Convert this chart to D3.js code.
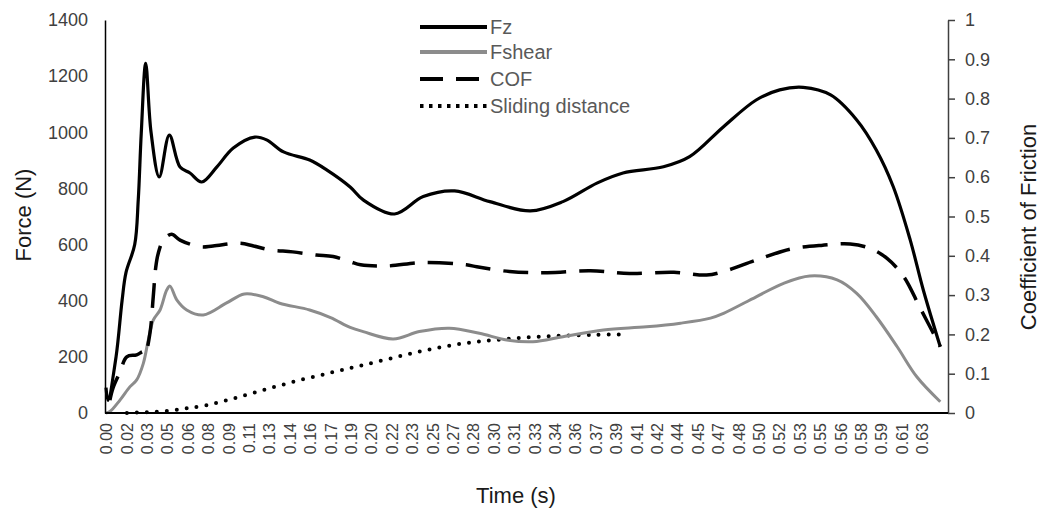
<!DOCTYPE html>
<html>
<head>
<meta charset="utf-8">
<script src="https://cdn.jsdelivr.net/npm/d3@7"></script>
<style>
  body { margin: 0; background: #fff; }
  svg { font-family: "Liberation Sans", Arial, sans-serif; }
</style>
</head>
<body>
<div id="chart"></div>
<script>
// x-axis category labels (every 1/64 s)
const tickLabels = ["0.00","0.02","0.03","0.05","0.06","0.08","0.09","0.11","0.13","0.14",
  "0.16","0.17","0.19","0.20","0.22","0.23","0.25","0.27","0.28","0.30","0.31","0.33",
  "0.34","0.36","0.37","0.39","0.41","0.42","0.44","0.45","0.47","0.48","0.50","0.52",
  "0.53","0.55","0.56","0.58","0.59","0.61","0.63"];
const forceTicks = [0, 200, 400, 600, 800, 1000, 1200, 1400];
const cofTicks = [0, 0.1, 0.2, 0.3, 0.4, 0.5, 0.6, 0.7, 0.8, 0.9, 1];

// Fz (N)
const fzTime = [0, 0.0015, 0.0077, 0.0123, 0.0153, 0.022, 0.0247, 0.027, 0.0304, 0.0345,
  0.0408, 0.0485, 0.0567, 0.0643, 0.0733, 0.0848, 0.0975, 0.114, 0.123, 0.136,
  0.156, 0.169, 0.187, 0.197, 0.221, 0.243, 0.267, 0.294, 0.325, 0.350,
  0.376, 0.396, 0.427, 0.447, 0.473, 0.498, 0.516, 0.534, 0.555, 0.575,
  0.590, 0.603, 0.616, 0.626, 0.639];
const fzValues = [90, 45, 200, 400, 500, 600, 759, 996, 1246, 1000,
  841, 990, 876, 855, 823, 876, 944, 983, 973, 930,
  901, 866, 805, 759, 709, 771, 791, 753, 720, 753,
  819, 855, 877, 913, 1020, 1115, 1151, 1160, 1133, 1044,
  937, 806, 616, 438, 236];

// Fshear (N)
const shearTime = [0, 0.003, 0.0107, 0.0184, 0.0235, 0.0286, 0.0324, 0.0362, 0.0414, 0.0465,
  0.049, 0.0542, 0.0618, 0.0745, 0.0924, 0.106, 0.1205, 0.133, 0.156, 0.172,
  0.187, 0.197, 0.220, 0.240, 0.263, 0.286, 0.307, 0.327, 0.350, 0.381,
  0.414, 0.440, 0.463, 0.473, 0.498, 0.519, 0.539, 0.560, 0.575, 0.590,
  0.606, 0.621, 0.639];
const shearValues = [0, 5, 46, 94, 118, 177, 260, 331, 367, 438,
  452, 403, 367, 349, 392, 424, 414, 391, 367, 340,
  305, 290, 264, 290, 302, 284, 260, 254, 272, 296,
  307, 320, 338, 355, 414, 462, 488, 474, 426, 343,
  236, 129, 40];

// COF (right axis)
const cofTime = [0.003, 0.0054, 0.0107, 0.0159, 0.0235, 0.0286, 0.030, 0.0337, 0.0362, 0.0381,
  0.040, 0.0439, 0.0502, 0.0567, 0.072, 0.082, 0.1026, 0.113, 0.1255, 0.143,
  0.161, 0.174, 0.187, 0.195, 0.215, 0.243, 0.276, 0.284, 0.309, 0.338,
  0.371, 0.401, 0.435, 0.460, 0.473, 0.498, 0.524, 0.549, 0.570, 0.585,
  0.598, 0.611, 0.623, 0.631, 0.639];
const cofValues = [0.033, 0.064, 0.104, 0.143, 0.148, 0.156, 0.15, 0.204, 0.296, 0.371,
  0.406, 0.440, 0.455, 0.440, 0.423, 0.425, 0.432, 0.425, 0.415, 0.410,
  0.402, 0.398, 0.385, 0.377, 0.374, 0.383, 0.377, 0.372, 0.360, 0.357,
  0.362, 0.355, 0.358, 0.351, 0.360, 0.389, 0.417, 0.427, 0.430, 0.419,
  0.394, 0.347, 0.271, 0.220, 0.169];

// Sliding distance (right axis)
const slideTime = [0.016, 0.03, 0.046, 0.062, 0.077, 0.0975, 0.123, 0.149, 0.174,
  0.197, 0.223, 0.248, 0.274, 0.299, 0.325, 0.350, 0.376, 0.396];
const slideValues = [0, 0.002, 0.005, 0.012, 0.02, 0.037, 0.061, 0.084, 0.104,
  0.122, 0.143, 0.162, 0.177, 0.186, 0.193, 0.197, 0.199, 0.2];

const W = 1040, H = 516;
const margin = { top: 20, right: 92, bottom: 103, left: 105 };
const width = W - margin.left - margin.right;
const height = H - margin.top - margin.bottom;

const svg = d3.select("#chart").append("svg")
  .attr("width", W).attr("height", H);
const g = svg.append("g")
  .attr("transform", "translate(" + margin.left + "," + margin.top + ")");

const step = 1 / 64;
const x = d3.scaleLinear().domain([0, 40 * step]).range([1, 817]);
const yLeft = d3.scaleLinear().domain([0, 1400]).range([height, 0]);
const yRight = d3.scaleLinear().domain([0, 1]).range([height, 0]);

function zip(ts, vs) { return ts.map((t, i) => ({ t: t, v: vs[i] })); }

const lineL = d3.line().x(d => x(d.t)).y(d => yLeft(d.v)).curve(d3.curveCatmullRom.alpha(0.5));
const lineR = d3.line().x(d => x(d.t)).y(d => yRight(d.v)).curve(d3.curveCatmullRom.alpha(0.5));

// series
g.append("path").datum(zip(slideTime, slideValues))
  .attr("d", lineR).attr("fill", "none").attr("stroke", "#000")
  .attr("stroke-width", 4).attr("stroke-linecap", "round").attr("stroke-dasharray", "0,10");
g.append("path").datum(zip(shearTime, shearValues))
  .attr("d", lineL).attr("fill", "none").attr("stroke", "#8c8c8c").attr("stroke-width", 3);
g.append("path").datum(zip(cofTime, cofValues))
  .attr("d", lineR).attr("fill", "none").attr("stroke", "#000")
  .attr("stroke-width", 3.5).attr("stroke-dasharray", "25,13");
g.append("path").datum(zip(fzTime, fzValues))
  .attr("d", lineL).attr("fill", "none").attr("stroke", "#000").attr("stroke-width", 3.2);

// left axis
const axL = g.append("g").call(d3.axisLeft(yLeft).tickValues(forceTicks)
  .tickFormat(d3.format("d")).tickSize(0).tickPadding(17));
axL.select(".domain").attr("stroke", "#000").attr("stroke-width", 1.5);
axL.selectAll("text").attr("font-size", 18).attr("fill", "#404040").attr("font-family", null);

// right axis
const axR = g.append("g").attr("transform", "translate(" + width + ",0)")
  .call(d3.axisRight(yRight).tickValues(cofTicks).tickFormat(d => String(d)).tickSize(7).tickPadding(10).tickSizeOuter(0));
axR.selectAll("path, line").attr("stroke", "#404040").attr("stroke-width", 1.5);
axR.selectAll("text").attr("font-size", 18).attr("fill", "#404040").attr("font-family", null);

// bottom axis
const axB = g.append("g").attr("transform", "translate(0," + height + ")")
  .call(d3.axisBottom(x).tickValues(tickLabels.map((d, i) => i * step))
    .tickFormat((d, i) => tickLabels[i]).tickSize(0));
axB.select(".domain").remove();
axB.selectAll("text")
  .attr("transform", "rotate(-90)")
  .attr("x", -10).attr("y", 0).attr("dy", "0.35em")
  .style("text-anchor", "end")
  .attr("font-size", 16).attr("fill", "#404040").attr("font-family", null);
g.append("line").attr("x1", 0).attr("x2", width).attr("y1", height).attr("y2", height)
  .attr("stroke", "#000").attr("stroke-width", 2);

// axis titles
svg.append("text").attr("transform", "translate(23,215) rotate(-90)")
  .attr("text-anchor", "middle").attr("dy", "0.35em")
  .attr("font-size", 22).attr("fill", "#1a1a1a").text("Force (N)");
svg.append("text").attr("transform", "translate(1028,227) rotate(-90)")
  .attr("text-anchor", "middle").attr("dy", "0.35em")
  .attr("font-size", 22).attr("fill", "#1a1a1a").text("Coefficient of Friction");
svg.append("text").attr("x", 516).attr("y", 503)
  .attr("text-anchor", "middle")
  .attr("font-size", 22).attr("fill", "#1a1a1a").text("Time (s)");

// legend
const legendItems = [
  { name: "Fz", color: "#000", width: 4, dash: null },
  { name: "Fshear", color: "#8c8c8c", width: 4, dash: null },
  { name: "COF", color: "#000", width: 4, dash: "23,13" },
  { name: "Sliding distance", color: "#000", width: 4, dash: "3.5,5.5" }
];
const legendY = [27, 52, 79, 106];
const legend = svg.append("g").attr("transform", "translate(420,0)");
legendItems.forEach(function (d, i) {
  legend.append("line").attr("x1", 0).attr("x2", 67)
    .attr("y1", legendY[i]).attr("y2", legendY[i])
    .attr("stroke", d.color).attr("stroke-width", d.width)
    .attr("stroke-dasharray", d.dash);
  legend.append("text").attr("x", 70).attr("y", legendY[i]).attr("dy", "0.35em")
    .attr("font-size", 20).attr("fill", "#595959").text(d.name);
});
</script>
</body>
</html>
